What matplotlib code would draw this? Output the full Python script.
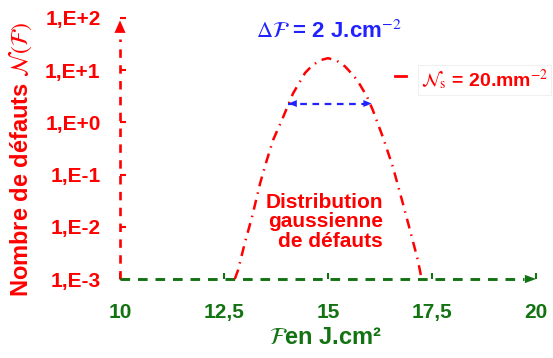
import numpy as np
import matplotlib.pyplot as plt
from matplotlib.lines import Line2D

plt.rcParams['font.family'] = ['Liberation Sans', 'DejaVu Sans']
plt.rcParams['mathtext.fontset'] = 'stix'

# Gaussian defect distribution (log scale)
fluence = [12.76, 12.84, 13.00, 13.17, 13.37, 13.53, 13.68, 13.89, 14.16, 14.45,
           14.62, 14.81, 15.0, 15.2, 15.41, 15.58, 15.70, 15.94, 16.08, 16.32,
           16.56, 16.78, 16.97, 17.16, 17.25]
defauts = [1e-3, 1.5e-3, 4.9e-3, 1.5e-2, 0.069, 0.19, 0.46, 1.1, 3.6, 8.9,
           12.3, 15.5, 17.0, 15.4, 11.8, 8.4, 6.5, 3.1, 1.7, 0.52,
           0.14, 0.032, 0.0087, 0.0023, 1e-3]

xticks = [10, 12.5, 15, 17.5, 20]
xticklabels = ['10', '12,5', '15', '17,5', '20']
yticks = [1e-3, 1e-2, 1e-1, 1e0, 1e1, 1e2]
yticklabels = ['1,E-3', '1,E-2', '1,E-1', '1,E+0', '1,E+1', '1,E+2']

# width of distribution: delta F = 2 J/cm2
delta_f = [14.05, 16.05]
delta_level = 2.3

red = '#ff0000'
green = '#137313'
blue = '#2222ff'

W, H = 553, 358
fig = plt.figure(figsize=(W / 100, H / 100), dpi=100)
ax = fig.add_axes([120 / W, 79 / H, 416 / W, 261 / H])
ax.set_xlim(10, 20)
ax.set_yscale('log')
ax.set_ylim(1e-3, 1e2)
for s in ax.spines.values():
    s.set_visible(False)

ax.set_xticks(xticks)
ax.set_xticklabels(xticklabels, color=green, fontsize=15, fontweight='bold')
ax.set_yticks(yticks)
ax.set_yticklabels(yticklabels, color=red, fontsize=15, fontweight='bold')
ax.minorticks_off()
ax.tick_params(axis='x', direction='in', length=4, width=1.5, color=green, pad=17)
ax.tick_params(axis='y', direction='in', length=4, width=1.5, color=red, pad=14)

# axes as dashed arrows
ax.plot([10, 10], [1e-3, 4e1], color=red, lw=1.9, linestyle=(0, (3.2, 2.8)), clip_on=False)
ax.annotate('', xy=(10, 0.9e2), xytext=(10, 2.5e1),
            arrowprops=dict(arrowstyle='-|>,head_length=0.9,head_width=0.4',
                            color=red, lw=0, shrinkA=0, shrinkB=0), annotation_clip=False)
ax.plot([10, 19.7], [1e-3, 1e-3], color=green, lw=2.1, linestyle=(0, (3.3, 2.7)), clip_on=False)
ax.annotate('', xy=(20, 1e-3), xytext=(19.5, 1e-3),
            arrowprops=dict(arrowstyle='-|>,head_length=0.8,head_width=0.3',
                            color=green, lw=0, shrinkA=0, shrinkB=0), annotation_clip=False)

# gaussian curve
ax.plot(fluence, defauts, color=red, lw=1.8, linestyle=(0, (4, 2.5, 0.6, 2.5)), clip_on=False)

# delta F double arrow
ax.plot(delta_f, [delta_level, delta_level], color=blue, lw=1.6, linestyle=(0, (3, 2.5)))
for a, b in [(delta_f[0], delta_f[0] + 0.3), (delta_f[1], delta_f[1] - 0.3)]:
    ax.annotate('', xy=(a, delta_level), xytext=(b, delta_level),
                arrowprops=dict(arrowstyle='-|>,head_length=0.6,head_width=0.25',
                                color=blue, lw=0, shrinkA=0, shrinkB=0))

fig.text(383 / W, 1 - 222 / H, 'Distribution\ngaussienne\nde défauts',
         color=red, fontsize=15, fontweight='bold', ha='right', va='center',
         multialignment='right', linespacing=1.05)

# labels
fig.text(20 / W, 1 - 159 / H, r'Nombre de défauts $\mathcal{N}(\mathcal{F})$', rotation=90,
         color=red, fontsize=17, fontweight='bold', ha='center', va='center')
fig.text(325 / W, 1 - 337 / H, r'$\mathcal{F}$en J.cm²', color=green, fontsize=17,
         fontweight='bold', ha='center', va='center')
fig.text(329 / W, 1 - 32 / H, r'$\Delta\mathcal{F}$ = 2 J.cm$^{-2}$', color=blue,
         fontsize=16, fontweight='bold', ha='center', va='center')

# legend-like label
fig.add_artist(Line2D([395 / W, 406 / W], [1 - 76 / H, 1 - 76 / H], color=red, lw=2))
fig.text(421 / W, 1 - 80 / H, r'$\mathcal{N}_\mathrm{s}$ = 20.mm$^{-2}$', color=red,
         fontsize=14, fontweight='bold', ha='left', va='center',
         bbox=dict(facecolor='white', edgecolor='#f0f0f0', pad=2, lw=0.8))

fig.savefig('out.png', dpi=100)
